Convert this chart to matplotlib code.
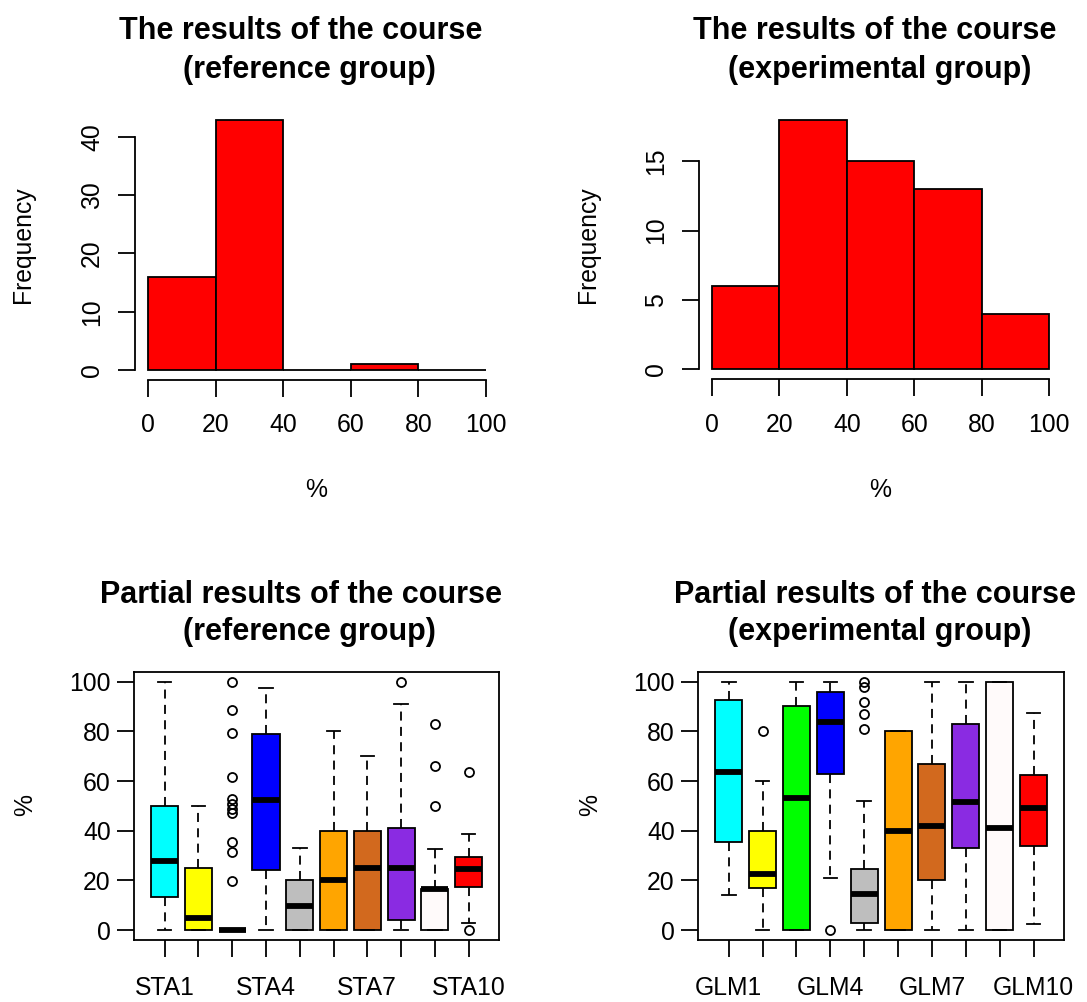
import numpy as np
import matplotlib
matplotlib.use('Agg')
import matplotlib.pyplot as plt

# Histogram data (counts per 20% bin)
bin_edges = [0, 20, 40, 60, 80, 100]
ref_counts = [16, 43, 0, 1, 0]
exp_counts = [6, 18, 15, 13, 4]

# Boxplot summaries, reference group
sta_labels = ['STA1', 'STA2', 'STA3', 'STA4', 'STA5', 'STA6', 'STA7', 'STA8', 'STA9', 'STA10']
sta_lo = [0, 0, 0, 0, 0, 0, 0, 0, 0, 3]
sta_q1 = [13.5, 0, 0, 24, 0, 0, 0, 4, 0, 17.5]
sta_med = [28, 5, 0, 52.5, 9.5, 20, 25, 25, 16.5, 24.5]
sta_q3 = [50, 25, 0, 79, 20, 40, 40, 41, 16.7, 29.5]
sta_hi = [100, 50, 0, 97.5, 33, 80, 70, 91, 32.6, 38.5]
sta_fliers = [[], [], [100, 88.6, 79.2, 61.5, 52.6, 50.6, 48.6, 47, 35.5, 31.5, 19.9],
              [], [], [], [], [100], [83, 66, 50], [63.8, 0]]

# Boxplot summaries, experimental group
glm_labels = ['GLM1', 'GLM2', 'GLM3', 'GLM4', 'GLM5', 'GLM6', 'GLM7', 'GLM8', 'GLM9', 'GLM10']
glm_lo = [14, 0, 0, 21, 0, 0, 0, 0, 0, 2.5]
glm_q1 = [35.5, 17, 0, 62.8, 3, 0, 20, 33, 0, 34]
glm_med = [63.5, 22.5, 53, 83.6, 14.4, 40, 42, 51.5, 41, 49]
glm_q3 = [92.5, 40, 90, 95.7, 24.7, 80, 66.7, 83, 100, 62.5]
glm_hi = [100, 60, 100, 100, 52, 80, 100, 100, 100, 87.5]
glm_fliers = [[], [80], [], [0], [100, 98, 92, 87, 81], [], [], [], [], []]

box_colors = ['#00FFFF', '#FFFF00', '#00FF00', '#0000FF', '#BEBEBE',
              '#FFA500', '#D2691E', '#8A2BE2', '#FFFAFA', '#FF0000']

plt.rcParams['font.family'] = ['Liberation Sans', 'DejaVu Sans']

W, H = 1087, 1002
fig = plt.figure(figsize=(W / 100, H / 100), dpi=100)

LBL = 17.8
TTL = 22
LW = 1.3


def add_axes_px(left, top, right, bottom):
    return fig.add_axes([left / W, 1 - bottom / H, (right - left) / W, (bottom - top) / H])


def text_px(x, y, s, **kw):
    fig.text(x / W, 1 - y / H, s, **kw)


def title_px(cx1, cx2, y1, y2, line1, line2):
    text_px(cx1, y1, line1, ha='center', va='baseline', fontsize=TTL, fontweight='bold')
    text_px(cx2, y2, line2, ha='center', va='baseline', fontsize=TTL, fontweight='bold')


def draw_hist(ax, counts, yticks):
    ax.hist(bin_edges[:-1], bins=bin_edges, weights=counts, color='#FF0000',
            edgecolor='black', linewidth=LW)
    top = max(counts)
    ax.set_xlim(-4, 104)
    ax.set_ylim(-0.04 * top, 1.04 * top)
    for s in ['top', 'right']:
        ax.spines[s].set_visible(False)
    for s in ['left', 'bottom']:
        ax.spines[s].set_linewidth(LW)
    ax.spines['bottom'].set_bounds(0, 100)
    ax.spines['left'].set_bounds(yticks[0], yticks[-1])
    ax.set_xticks(bin_edges)
    ax.set_yticks(yticks)
    ax.tick_params(direction='out', length=12, width=LW, labelsize=LBL)
    ax.tick_params(axis='x', pad=12)
    ax.tick_params(axis='y', pad=10)
    for lab in ax.get_yticklabels():
        lab.set_rotation(90)
        lab.set_va('center')


def draw_box(ax, lo, q1, med, q3, hi, fliers, labels):
    stats = []
    for i in range(len(labels)):
        stats.append(dict(whislo=lo[i], q1=q1[i], med=med[i], q3=q3[i],
                          whishi=hi[i], fliers=fliers[i], label=labels[i]))
    bp = ax.bxp(stats, positions=np.arange(1, len(labels) + 1), widths=0.8,
                capwidths=0.4, patch_artist=True, showfliers=True,
                boxprops=dict(linewidth=LW, edgecolor='black'),
                medianprops=dict(color='black', linewidth=4.2, solid_capstyle='butt'),
                whiskerprops=dict(color='black', linewidth=LW, linestyle=(0, (5, 3.5))),
                capprops=dict(color='black', linewidth=LW),
                flierprops=dict(marker='o', markerfacecolor='none', markeredgecolor='black',
                                markersize=6.5, markeredgewidth=1.3))
    for patch, c in zip(bp['boxes'], box_colors):
        patch.set_facecolor(c)
    ax.set_xlim(0.1, 10.9)
    ax.set_ylim(-4, 104)
    for s in ax.spines.values():
        s.set_linewidth(LW)
    ax.set_yticks([0, 20, 40, 60, 80, 100])
    ax.set_xticks(np.arange(1, 11))
    ax.set_xticklabels([l if i % 3 == 0 else '' for i, l in enumerate(labels)])
    ax.tick_params(direction='out', length=12, width=LW, labelsize=LBL)
    ax.tick_params(axis='x', pad=14)
    ax.tick_params(axis='y', pad=5)


# Top-left histogram
ax1 = add_axes_px(134.5, 109.5, 499.5, 380)
draw_hist(ax1, ref_counts, [0, 10, 20, 30, 40])
title_px(301, 309, 39.3, 78.3, 'The results of the course', '(reference group)')
text_px(23, 245, 'Frequency', rotation=90, ha='center', va='center', fontsize=LBL)
text_px(316, 490, '%', ha='center', va='center', fontsize=LBL)

# Top-right histogram
ax2 = add_axes_px(698.5, 109.7, 1062.8, 379.3)
draw_hist(ax2, exp_counts, [0, 5, 10, 15])
title_px(875, 880, 39.3, 78.3, 'The results of the course', '(experimental group)')
text_px(588, 245, 'Frequency', rotation=90, ha='center', va='center', fontsize=LBL)
text_px(880, 490, '%', ha='center', va='center', fontsize=LBL)

# Bottom-left boxplot
ax3 = add_axes_px(134.3, 671.7, 499, 940)
draw_box(ax3, sta_lo, sta_q1, sta_med, sta_q3, sta_hi, sta_fliers, sta_labels)
title_px(301, 309, 602.7, 640, 'Partial results of the course', '(reference group)')
text_px(25, 805, '%', rotation=90, ha='center', va='center', fontsize=LBL)

# Bottom-right boxplot
ax4 = add_axes_px(698.3, 671.7, 1064, 940)
draw_box(ax4, glm_lo, glm_q1, glm_med, glm_q3, glm_hi, glm_fliers, glm_labels)
title_px(875, 880, 602.7, 640, 'Partial results of the course', '(experimental group)')
text_px(590, 805, '%', rotation=90, ha='center', va='center', fontsize=LBL)

fig.savefig('out.png', dpi=100)
